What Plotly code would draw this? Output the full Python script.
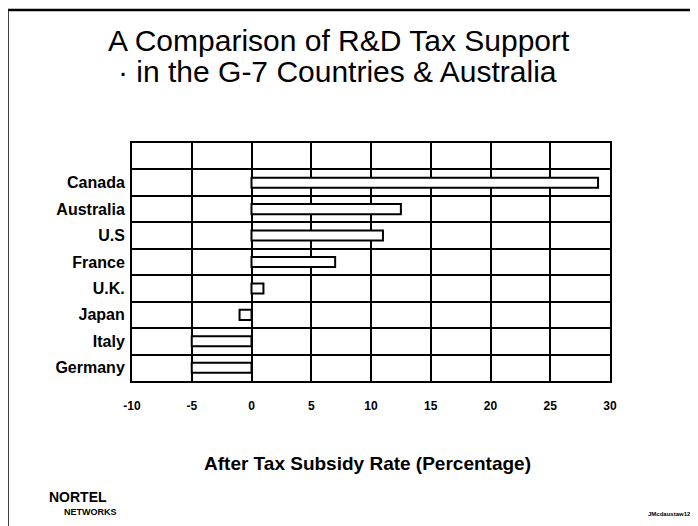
import plotly.graph_objects as go

countries = ["Germany", "Italy", "Japan", "U.K.", "France", "U.S", "Australia", "Canada"]
subsidy = [-5, -5, -1, 1, 7, 11, 12.5, 29]
positions = [1, 2, 3, 4, 5, 6, 7, 8]
x_ticks = [-10, -5, 0, 5, 10, 15, 20, 25, 30]

OFF = 8  # page body margin
W, H = 698 - OFF, 526 - OFF
L, R, T, B = 132 - OFF, 610 - OFF, 143 - OFF, 381 - OFF

def px(x):
    return (x - OFF - L) / (R - L)

def py(y):
    return (B - (y - OFF)) / (B - T)

fig = go.Figure()
fig.add_trace(go.Bar(
    x=subsidy, y=positions, orientation="h", width=0.38,
    marker=dict(color="white", line=dict(color="black", width=2)),
    showlegend=False, hoverinfo="x+y",
))

font_b = "Liberation Sans, Arial, sans-serif"

fig.update_layout(
    width=W, height=H,
    margin=dict(l=L, r=W - R, t=T, b=H - B, pad=0),
    paper_bgcolor="white", plot_bgcolor="white",
    xaxis=dict(
        range=[-10, 30], tickvals=x_ticks, ticktext=[str(v) for v in x_ticks],
        showgrid=True, gridcolor="black", gridwidth=1.7,
        zeroline=False, showline=True, linecolor="black", linewidth=2, mirror=True,
        ticks="", ticklabelstandoff=13,
        tickfont=dict(family=font_b, size=12, color="black", weight="bold"),
        fixedrange=True,
    ),
    yaxis=dict(
        range=[0.5, 9.5], tickmode="array", tickvals=positions, ticktext=countries,
        showgrid=False, zeroline=False, showline=True, linecolor="black", linewidth=2, mirror=True,
        ticks="", ticklabelstandoff=2,
        tickfont=dict(family=font_b, size=16, color="black", weight="bold"),
        minor=dict(tickmode="array", tickvals=[0.5 + i for i in range(10)],
                   showgrid=True, gridcolor="black", gridwidth=1.7, ticks=""),
        fixedrange=True,
    ),
    bargap=0.6,
)

annos = [
    dict(text="A Comparison of R&D Tax Support", x=px(339), y=py(40),
         font=dict(family=font_b, size=30, color="black")),
    dict(text="· in the G-7 Countries & Australia", x=px(337), y=py(72),
         font=dict(family=font_b, size=30, color="black")),
    dict(text="After Tax Subsidy Rate (Percentage)", x=px(367), y=py(463),
         font=dict(family=font_b, size=19, color="black", weight="bold")),
    dict(text="NORTEL", x=px(47), y=py(497), xanchor="left",
         font=dict(family=font_b, size=14, color="black", weight="bold")),
    dict(text="NETWORKS", x=px(62), y=py(512), xanchor="left",
         font=dict(family=font_b, size=9, color="black", weight="bold")),
    dict(text="JMcdaustaw12", x=px(693), y=py(514), xanchor="right",
         font=dict(family=font_b, size=6, color="black", weight="bold")),
]
for a in annos:
    a.setdefault("xanchor", "center")
    fig.add_annotation(xref="paper", yref="paper", showarrow=False, yanchor="middle", **a)

fig.add_shape(type="line", xref="paper", yref="paper",
              x0=px(8), x1=px(698), y0=py(10), y1=py(10), line=dict(color="black", width=2.5))
fig.add_shape(type="line", xref="paper", yref="paper",
              x0=px(8), x1=px(8), y0=py(10), y1=py(526), line=dict(color="black", width=1.5))

fig.write_html("out.html", config={"displayModeBar": False})
